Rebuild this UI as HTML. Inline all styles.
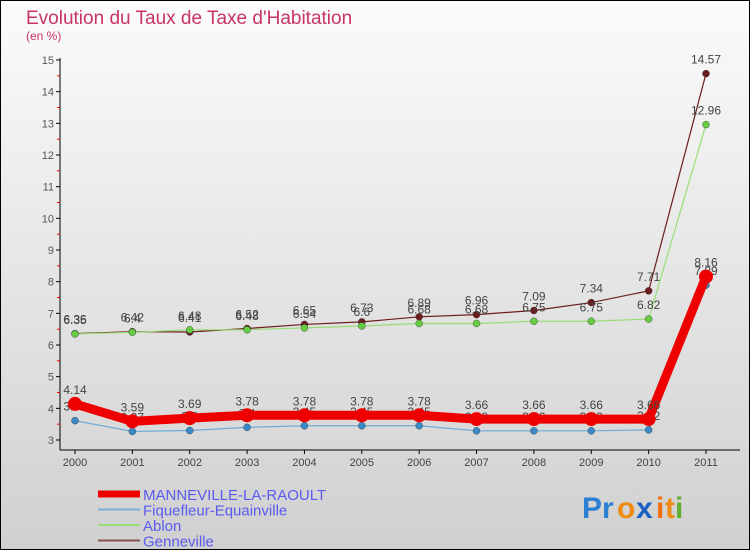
<!DOCTYPE html>
<html><head><meta charset="utf-8"><style>
body{margin:0;width:750px;height:550px;overflow:hidden}
svg{display:block;font-family:"Liberation Sans",sans-serif}
</style></head><body>
<svg width="750" height="550">
<defs><linearGradient id="bg" x1="0" y1="0" x2="0" y2="1"><stop offset="0" stop-color="#fbfbfb"/><stop offset="1" stop-color="#d0d0d0"/></linearGradient></defs>
<rect x="0.5" y="0.5" width="749" height="549" fill="url(#bg)" stroke="#000"/>
<text x="26" y="24" font-size="19" fill="#c8336a">Evolution du Taux de Taxe d'Habitation</text>
<text x="26" y="40" font-size="12" fill="#c8336a">(en %)</text>
<g id="axes"></g><g id="series"></g><g id="legend"></g>
<g font-size="30" font-weight="bold">
<text x="582" y="518" fill="#2a7fd0">Pr</text><text x="617" y="518" fill="#f08a10">o</text><text x="636" y="518" fill="#1a60c0">x</text><text x="656" y="518" fill="#f07010">i</text><text x="665" y="518" fill="#f08a10">t</text><text x="675" y="518" fill="#60b030">i</text>
</g>
</svg>
<script>
const years=["2000","2001","2002","2003","2004","2005","2006","2007","2008","2009","2010","2011"];
const mann=[4.14,3.59,3.69,3.78,3.78,3.78,3.78,3.66,3.66,3.66,3.66,8.16];
const fiq=[3.61,3.27,3.3,3.4,3.45,3.45,3.45,3.29,3.29,3.29,3.32,7.89];
const ablon=[6.35,6.4,6.48,6.48,6.54,6.6,6.68,6.68,6.75,6.75,6.82,12.96];
const genn=[6.36,6.42,6.41,6.52,6.65,6.73,6.89,6.96,7.09,7.34,7.71,14.57];
const yTicks=[3,4,5,6,7,8,9,10,11,12,13,14,15];
const NS="http://www.w3.org/2000/svg";
const X=i=>75+i*(706-75)/11, Y=v=>440-(v-3)*(380/12);
function mk(p,t,a){const e=document.createElementNS(NS,t);for(const k in a)e.setAttribute(k,a[k]);p.appendChild(e);return e;}
const ax=document.getElementById('axes');
const yl=mk(ax,'line',{x1:60,y1:58,x2:60,y2:450,stroke:'#000'});


const xl=mk(ax,'line',{x1:60,y1:450,x2:740,y2:450,stroke:'#000'});


yTicks.forEach(v=>{
 mk(ax,'line',{x1:56,y1:Y(v),x2:60,y2:Y(v),stroke:'#000'});
 if(v<15)mk(ax,'line',{x1:57,y1:Y(v+0.5),x2:60,y2:Y(v+0.5),stroke:'#e00'});
 const t=mk(ax,'text',{x:54,y:Y(v)+4,'font-size':11,fill:'#555','text-anchor':'end'});t.textContent=v;
 
 
});
years.forEach((y,i)=>{
 mk(ax,'line',{x1:X(i),y1:450,x2:X(i),y2:454,stroke:'#000'});
 const t=mk(ax,'text',{x:X(i),y:466,'font-size':11,fill:'#444','text-anchor':'middle'});t.textContent=y;
 
 
});
const sg=document.getElementById('series');
const defs=[
 {d:genn,c:'#6b1d1d',w:1.2,r:3.5,n:'genneville'},
 {d:ablon,c:'#66cc44',lc:'#99dd77',w:1.2,r:3.5,n:'ablon'},
 {d:fiq,c:'#3a8ac8',lc:'#6aaad8',w:1.2,r:3.5,n:'fiquefleur-equainville'},
 {d:mann,c:'#ee0000',w:9,r:7,n:'manneville-la-raoult'}];
defs.forEach(s=>{
 const g=mk(sg,'g',{});
 
 
 const pl=mk(g,'polyline',{points:s.d.map((v,i)=>X(i)+','+Y(v)).join(' '),fill:'none',stroke:s.lc||s.c,'stroke-width':s.w});
 
 
 s.d.forEach((v,i)=>{
  const c=mk(g,'circle',{cx:X(i),cy:Y(v),r:s.r,fill:s.c,stroke:s.w>2?'none':'#333','stroke-width':0.4});
  
  
  const t=mk(g,'text',{x:X(i),y:Y(v)-10,'font-size':12,fill:'#444','text-anchor':'middle'});t.textContent=v;
  
  
 });
});
const lg=document.getElementById('legend');
const leg=[['MANNEVILLE-LA-RAOULT','#ee0000',7],['Fiquefleur-Equainville','#7ab0d8',2],['Ablon','#99dd77',2],['Genneville','#8a5050',2]];
leg.forEach((l,i)=>{
 const y=494+i*15.5;
 const g=mk(lg,'g',{});
 
 
 mk(g,'line',{x1:98,y1:y,x2:140,y2:y,stroke:l[1],'stroke-width':l[2]});
 const t=mk(g,'text',{x:143,y:y+6,'font-size':15,fill:'#5a5aee'});t.textContent=l[0];
});
</script>
</body></html>
